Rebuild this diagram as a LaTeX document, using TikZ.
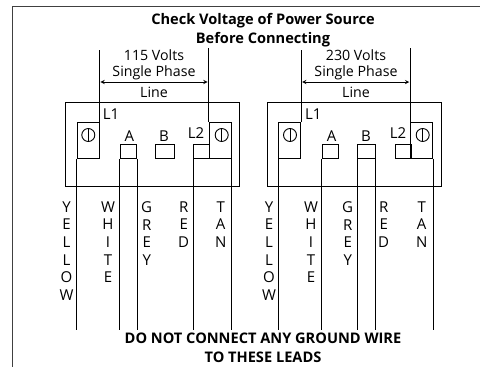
\documentclass[tikz,border=0pt]{standalone}
\usepackage{fontspec}
\setmainfont{Open Sans}
\usepackage{tikz}
\usetikzlibrary{arrows}

\begin{document}
\begin{tikzpicture}[x=1pt,y=-1pt,line width=0.9pt]
	\tikzstyle{boite}=[rectangle,draw,inner sep=0pt]
	\tikzstyle{bornier}=[boite,minimum width=174pt,minimum height=84pt]
	\tikzstyle{borne}=[boite,minimum width=22pt,minimum height=36pt]
	\tikzstyle{petite}=[boite,minimum width=16.5pt,minimum height=14pt]
	\tikzstyle{vis}=[circle,draw,inner sep=0pt,minimum size=13pt]
	\tikzstyle{texte}=[inner sep=0pt,font=\fontsize{14.2}{16}\selectfont,align=center]
	\tikzstyle{repere}=[inner sep=0pt,font=\fontsize{15}{16}\selectfont]
	\tikzstyle{titre}=[inner sep=0pt,font=\fontsize{14.6}{18.8}\selectfont\bfseries,align=center]
	\tikzstyle{fil}=[inner sep=0pt,anchor=north,font=\fontsize{15}{17.7}\selectfont,align=center]
	\useasboundingbox (0,0) rectangle (480,367);
	\coordinate (bas) at (0,330);
	\coordinate (haut) at (0,50);
	\coordinate (hautb) at (0,48);
	\coordinate (fleche) at (0,82);
	\draw[draw=black!75] (12.5,367) |- (480,6.5);
	\node[titre] (T) at (263,30){Check Voltage of Power Source\\Before Connecting};
	\node[titre] (W) at (263,348){DO NOT CONNECT ANY GROUND WIRE\\TO THESE LEADS};
	% 115 volts
	\node[bornier] (C) at (152.7,144.5){};
	\node[borne] (La) at (88,140.5){};
	\node[borne] (Lb) at (220,140.5){};
	\node[petite] (A) at (128.5,151.5){};
	\node[petite,minimum width=18.5pt] (B) at (164.7,151.5){};
	\node[petite,minimum width=16pt] (P) at (201.5,151.5){};
	\node[vis] (Va) at (88.3,135){};
	\node[vis] (Vb) at (221.7,135){};
	\draw (Va.north) -- (Va.south);
	\draw (Vb.north) -- (Vb.south);
	\draw (La.north east) -- (La.north east |- haut);
	\draw (Lb.north west) -- (Lb.north west |- hautb);
	\draw[<->,>=stealth,shorten >=1pt,shorten <=1pt] (La.north east |- fleche) -- (Lb.north west |- fleche);
	\draw (La.south west) -- (La.south west |- bas);
	\draw (A.south west) -- (A.south west |- bas);
	\draw (A.south east) -- (A.south east |- bas);
	\draw (P.south west) -- (P.south west |- bas);
	\draw (Lb.south east) -- (Lb.south east |- bas);
	\node[texte] (Ta) at (154,65){115 Volts\\Single Phase};
	\node[texte] (Tb) at (154,92){Line};
	\node[repere] (Tc) at (111,114){L1};
	\node[repere] (Td) at (196,132.7){L2};
	\node[repere] (Te) at (129.3,136){A};
	\node[repere] (Tf) at (164,136){B};
	\node[fil] (Fa) at (66.5,201){Y\\E\\L\\L\\O\\W};
	\node[fil] (Fb) at (108,201){W\\H\\I\\T\\E};
	\node[fil] (Fc) at (146.7,201){G\\R\\E\\Y};
	\node[fil] (Fd) at (183.7,201){R\\E\\D};
	\node[fil] (Fe) at (220.7,201){T\\A\\N};
	% 230 volts
	\node[bornier] (CC) at (354.7,144.5){};
	\node[borne] (LLa) at (289.7,140.5){};
	\node[borne] (LLb) at (421.7,140.5){};
	\node[petite] (AA) at (330.2,151.5){};
	\node[petite,minimum width=17.5pt] (BB) at (366.5,151.5){};
	\node[petite,minimum width=15.7pt] (PP) at (403.2,151.5){};
	\node[vis] (VVa) at (290,135){};
	\node[vis] (VVb) at (422.7,135){};
	\draw (VVa.north) -- (VVa.south);
	\draw (VVb.north) -- (VVb.south);
	\draw (LLa.north east) -- (LLa.north east |- haut);
	\draw (LLb.north west) -- (LLb.north west |- hautb);
	\draw[<->,>=stealth,shorten >=1pt,shorten <=1pt] (LLa.north east |- fleche) -- (LLb.north west |- fleche);
	\draw (LLa.south west) -- (LLa.south west |- bas);
	\draw (AA.south west) -- (AA.south west |- bas);
	\draw (BB.south west) -- (BB.south west |- bas);
	\draw (BB.south east) -- (BB.south east |- bas);
	\draw (LLb.south east) -- (LLb.south east |- bas);
	\node[texte] (TTa) at (356,65){230 Volts\\Single Phase};
	\node[texte] (TTb) at (356,92){Line};
	\node[repere] (TTc) at (313.3,114){L1};
	\node[repere] (TTd) at (398,132.7){L2};
	\node[repere] (TTe) at (331.7,136){A};
	\node[repere] (TTf) at (366,136){B};
	\node[fil] (FFa) at (269,201){Y\\E\\L\\L\\O\\W};
	\node[fil] (FFb) at (311,201){W\\H\\I\\T\\E};
	\node[fil] (FFc) at (347.7,201){G\\R\\E\\Y};
	\node[fil] (FFd) at (383.7,201){R\\E\\D};
	\node[fil] (FFe) at (421.7,201){T\\A\\N};
\end{tikzpicture}
\end{document}
